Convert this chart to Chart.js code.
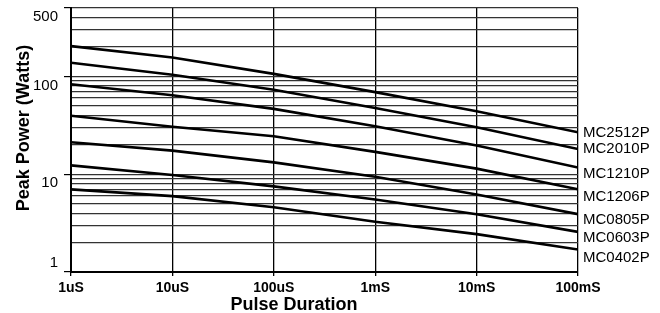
<!DOCTYPE html>
<html>
<head>
<meta charset="utf-8">
<script src="https://cdn.jsdelivr.net/npm/chart.js@4"></script>
<style>
  body { margin: 0; background: #fff; }
  canvas { display: block; }
</style>
</head>
<body>
<canvas id="myChart" width="660" height="313"></canvas>
<script>
// durations (seconds) and their labels
const durations = [1e-6, 1e-5, 1e-4, 1e-3, 1e-2, 1e-1];
const durationLabels = ["1uS", "10uS", "100uS", "1mS", "10mS", "100mS"];

// parts, top curve first
const parts = ["MC2512P", "MC2010P", "MC1210P", "MC1206P", "MC0805P", "MC0603P", "MC0402P"];

// peak power (W) at each duration
const mc2512p = [204, 156, 106, 69, 44, 26.8];
const mc2010p = [138, 104, 73, 47.5, 30.2, 18.1];
const mc1210p = [83, 64, 46.5, 30.9, 19.6, 11.7];
const mc1206p = [39.6, 30.5, 24.4, 16.9, 11.4, 7.0];
const mc0805p = [21.2, 17.4, 13.2, 9.4, 6.2, 3.9];
const mc0603p = [12.3, 9.8, 7.5, 5.5, 3.9, 2.57];
const mc0402p = [7.0, 5.96, 4.6, 3.26, 2.44, 1.70];

// y grid + labels
const powerTicks = [1, 2, 3, 4, 5, 6, 7, 8, 9, 10, 20, 30, 40, 50, 60, 70, 80, 90, 100, 200, 300, 400, 500];
const powerLabels = [1, 10, 100, 500];

const series = [mc2512p, mc2010p, mc1210p, mc1206p, mc0805p, mc0603p, mc0402p];

// texte a droite des courbes, labels de l'axe y (decales sous la ligne) + titres des axes
const extraText = {
    id: "extraText",
    afterDraw(chart) {
        const ctx = chart.ctx;
        const y = chart.scales.y;
        const area = chart.chartArea;
        const shift = [1, 0, 6, 8, 6, 6, 8];
        ctx.save();
        ctx.fillStyle = "#000";
        ctx.font = "15px 'Liberation Sans', Arial, sans-serif";
        ctx.textBaseline = "middle";
        ctx.textAlign = "left";
        parts.forEach((p, i) => {
            const s = series[i];
            const py = y.getPixelForValue(s[s.length - 1]) + shift[i];
            ctx.fillText(p, area.right + 5, py);
        });

        ctx.textAlign = "right";
        powerLabels.forEach((v) => {
            const py = y.getPixelForValue(v) + (v === y.min ? -9 : 9);
            ctx.fillText(String(v), area.left - 13, py);
        });

        ctx.font = "bold 18px 'Liberation Sans', Arial, sans-serif";
        ctx.textAlign = "center";
        ctx.fillText("Pulse Duration", 294, 305);

        ctx.translate(24, 128);
        ctx.rotate(-Math.PI / 2);
        ctx.fillText("Peak Power (Watts)", 0, 0);
        ctx.restore();
    }
};

const ctx = document.getElementById("myChart").getContext("2d");
new Chart(ctx, {
    type: "line",
    data: {
        datasets: series.map((s, i) => ({
            label: parts[i],
            data: durations.map((d, j) => ({ x: d, y: s[j] })),
            borderColor: "#000",
            borderWidth: 2.6,
            pointRadius: 0,
            tension: 0,
        })),
    },
    options: {
        responsive: false,
        devicePixelRatio: 1,
        animation: false,
        layout: { padding: { top: 8, right: 82, left: 0, bottom: 0 } },
        plugins: {
            legend: { display: false },
            tooltip: { enabled: false },
        },
        scales: {
            x: {
                type: "logarithmic",
                min: 1e-6,
                max: 1e-1,
                afterBuildTicks: (scale) => {
                    scale.ticks = durations.map(v => ({ value: v }));
                },
                afterFit: (scale) => {
                    scale.height = 41;
                    scale.paddingLeft = 0;
                    scale.paddingRight = 0;
                },
                ticks: {
                    autoSkip: false,
                    maxRotation: 0,
                    padding: 4,
                    color: "#000",
                    font: { family: "'Liberation Sans', Arial, sans-serif", size: 14, weight: "bold" },
                    callback: (value) => {
                        const i = durations.findIndex(d => Math.abs(d - value) / d < 1e-6);
                        return i >= 0 ? durationLabels[i] : "";
                    },
                },
                grid: { color: "#000", lineWidth: 1.3, tickLength: 4 },
                border: { color: "#000", width: 2 },
            },
            y: {
                type: "logarithmic",
                min: 1,
                max: 500,
                afterBuildTicks: (scale) => {
                    scale.ticks = powerTicks.map(v => ({ value: v }));
                },
                afterFit: (scale) => {
                    scale.width = 71;
                    scale.paddingTop = 0;
                    scale.paddingBottom = 0;
                },
                ticks: {
                    autoSkip: false,
                    padding: 4,
                    callback: () => "",
                },
                grid: {
                    color: "#333",
                    lineWidth: 1.2,
                    tickLength: 7,
                    tickColor: (c) => powerLabels.includes(c.tick && c.tick.value) ? "#000" : "rgba(0,0,0,0)",
                },
                border: { color: "#000", width: 2 },
            },
        },
    },
    plugins: [extraText],
});
</script>
</body>
</html>
